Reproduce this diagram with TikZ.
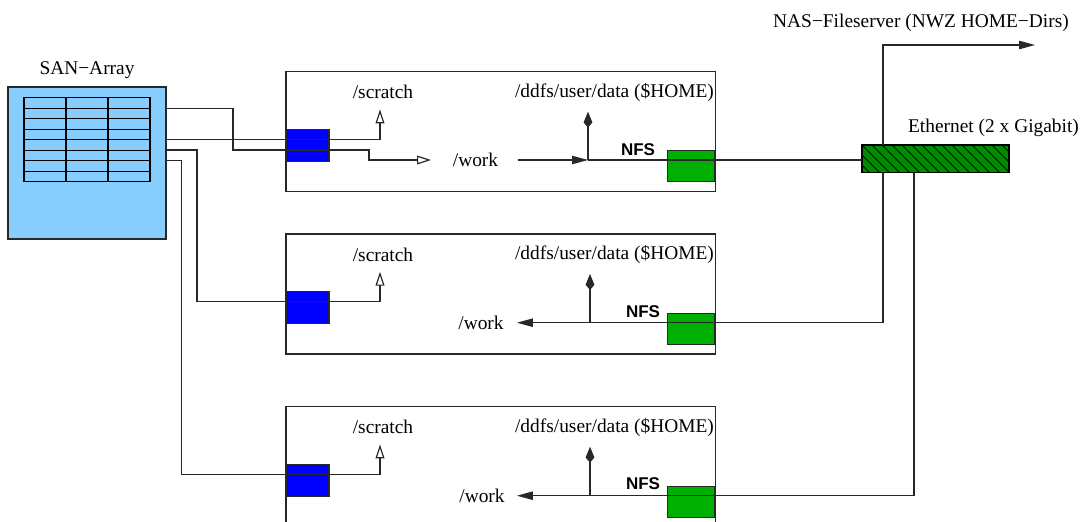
\documentclass[tikz,border=0pt]{standalone}
\usepackage{fontspec}
\setmainfont{Liberation Serif}
\newfontfamily\nfsfont{Liberation Sans}
\usetikzlibrary{arrows.meta, positioning, calc}
\definecolor{sanblue}{RGB}{135,206,255}
\definecolor{fcblue}{RGB}{0,0,255}
\definecolor{nfsgreen}{RGB}{0,176,0}
\definecolor{ethgreen}{RGB}{0,140,0}
\definecolor{mydark}{RGB}{40,40,40}
\tikzset{
  sanbox/.style={rectangle,draw=mydark,fill=sanblue,minimum width=79pt,
    minimum height=76pt,inner sep=0pt},
  server/.style={rectangle,draw=mydark,minimum width=214.65pt,minimum height=60pt,inner sep=0pt},
  fcport/.style={rectangle,draw=mydark,fill=fcblue,minimum width=21.15pt,
    minimum height=15.85pt,inner sep=0pt},
  nfsport/.style={rectangle,draw=mydark,fill=nfsgreen,minimum width=23.5pt,
    minimum height=15.5pt,inner sep=0pt},
  ethbox/.style={rectangle,draw=black,fill=ethgreen,minimum width=73pt,
    minimum height=13.25pt,inner sep=0pt},
  lbl/.style={font=\fontsize{9.7}{11.6}\selectfont},
  nfslbl/.style={font=\nfsfont\bfseries\fontsize{8.5}{10}\selectfont},
  openarrow/.style={-{Triangle[open,fill=white,length=7pt,width=4.4pt]},color=mydark},
  fillarrow/.style={-{Triangle[length=8pt,width=4.2pt]},color=mydark},
  kitearrow/.style={-{Kite[length=8pt,width=4.4pt,inset=2.6pt]},color=mydark},
  line/.style={color=mydark}
}
\begin{document}
\begin{tikzpicture}[x=0.5pt,y=-0.5pt,line width=0.6pt]
  \useasboundingbox (0,0) rectangle (1091,521);

  % SAN array
  \node[sanbox] (san) at (87,163) {};
  \draw[line width=0.6pt] (24,97.7) rectangle (150,181.7);
  \foreach \x in {66,108} \draw[line width=0.6pt] (\x,97.7) -- (\x,181.7);
  \foreach \i in {1,...,7} \draw[line width=0.6pt] (24,97.7+\i*10.5) -- (150,97.7+\i*10.5);
  \node[lbl, above=0pt of san] (sanlbl) {SAN−Array};

  % servers
  \node[server] (srvA) at (500.65,131.7) {};
  \node[server] (srvB) at (500.65,294) {};
  \node[server] (srvC) at (500.65,466.7) {};

  \node[fcport, anchor=north west] (fcA) at (286,129) {};
  \node[fcport, anchor=north west] (fcB) at (286,291) {};
  \node[fcport, anchor=north west] (fcC) at (286,464) {};

  \node[nfsport, anchor=north east] (nfsA) at (715.3,150) {};
  \node[nfsport, anchor=north east] (nfsB) at (715.3,312.7) {};
  \node[nfsport, anchor=north east] (nfsC) at (715.3,485.7) {};

  \node[lbl] (scrA) at (383,92.3) {/scratch};
  \node[lbl] (scrB) at (383,254.6) {/scratch};
  \node[lbl] (scrC) at (383,427.3) {/scratch};
  \node[lbl] (homeA) at (614.5,92.3) {/ddfs/user/data (\$HOME)};
  \node[lbl] (homeB) at (614.5,254.6) {/ddfs/user/data (\$HOME)};
  \node[lbl] (homeC) at (614.5,427.3) {/ddfs/user/data (\$HOME)};
  \node[nfslbl] (nfslA) at (638,149.3) {NFS};
  \node[nfslbl] (nfslB) at (643,311.7) {NFS};
  \node[nfslbl] (nfslC) at (643,484) {NFS};
  \node[lbl] (workA) at (475.5,160) {/work};
  \node[lbl] (workB) at (481,322.7) {/work};
  \node[lbl] (workC) at (482,495.7) {/work};

  % ethernet
  \node[ethbox, anchor=north west] (eth) at (862,145) {};
  \begin{scope}
    \clip (eth.south west) rectangle (eth.north east);
    \foreach \i in {0,...,18} \draw[line width=0.4pt] ($(eth.north west)+(\i*10-30,0)$) -- ++(30,30);
  \end{scope}
  \draw (eth.south west) rectangle (eth.north east);
  \node[lbl] (ethlbl) at (993.5,128.3) {Ethernet (2 x Gigabit)};
  \node[lbl] (naslbl) at (921,23.3) {NAS−Fileserver (NWZ HOME−Dirs)};

  \coordinate (sW) at (166,108.3);
  \coordinate (sA) at (166,139.3);
  \coordinate (sB) at (166,150);
  \coordinate (sC) at (166,160.7);
  \coordinate (jA) at (588,160);
  \coordinate (jB) at (590,322.7);
  \coordinate (jC) at (590,495.7);
  \coordinate (ethB) at (883,322.7);
  \coordinate (ethC) at (914,495.7);
  \coordinate (nas) at (1035,45);

  % SAN to servers
  \draw[openarrow] (sW) -| (233,150) -| (369,160) -- ($(workA.west)+(-14.6,0)$);
  \draw[openarrow] (sA) -| ($(scrA.south)+(-3,3)$);
  \draw[openarrow] (sB) -| (197,301.7) -| ($(scrB.south)+(-3,3)$);
  \draw[openarrow] (sC) -| (181.7,474.3) -| ($(scrC.south)+(-3,3)$);

  % NFS
  \draw[fillarrow] ($(workA.east)+(12.2,0)$) -- (jA);
  \draw[kitearrow] (jA) -- ($(jA |- homeA.south)+(0,3)$);
  \draw[line] (jA) -- (eth.west |- jA);

  \draw[fillarrow] (ethB) -- ($(workB.east)+(6,0)$);
  \draw[kitearrow] (jB) -- ($(jB |- homeB.south)+(0,3)$);
  \draw[line] (ethB) -- (ethB |- eth.south);
  \draw[fillarrow] (ethB |- eth.north) |- (nas);

  \draw[fillarrow] (ethC |- eth.south) |- ($(workC.east)+(5,0)$);
  \draw[kitearrow] (jC) -- ($(jC |- homeC.south)+(0,3)$);
\end{tikzpicture}
\end{document}
